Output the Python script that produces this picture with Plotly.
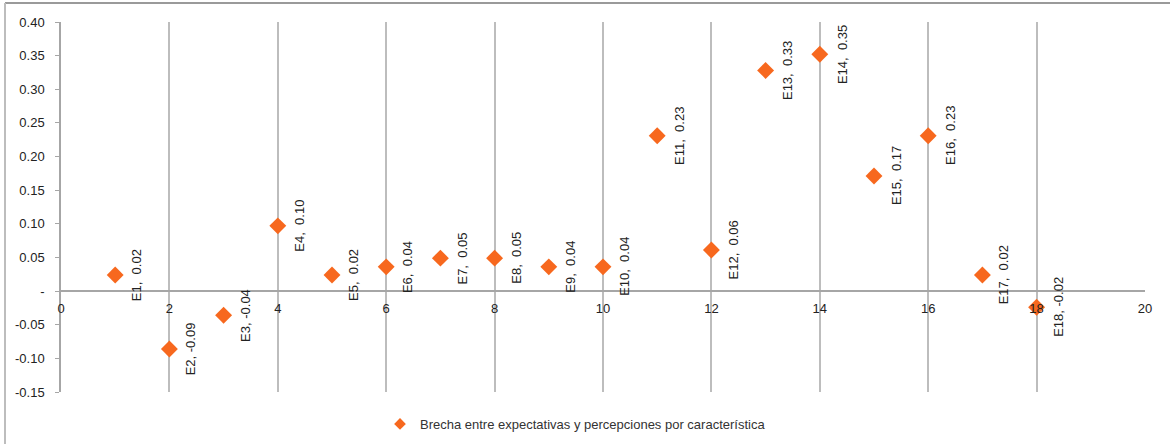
import plotly.graph_objects as go

labels = ["E1", "E2", "E3", "E4", "E5", "E6", "E7", "E8", "E9", "E10",
          "E11", "E12", "E13", "E14", "E15", "E16", "E17", "E18"]
x_vals = [1, 2, 3, 4, 5, 6, 7, 8, 9, 10, 11, 12, 13, 14, 15, 16, 17, 18]
y_vals = [0.024, -0.086, -0.036, 0.097, 0.024, 0.036, 0.049, 0.049, 0.036, 0.036,
          0.231, 0.061, 0.328, 0.352, 0.171, 0.231, 0.024, -0.024]
series_name = "Brecha entre expectativas y percepciones por característica"
y_tick_vals = [0.40, 0.35, 0.30, 0.25, 0.20, 0.15, 0.10, 0.05, 0.0, -0.05, -0.10, -0.15]
x_tick_vals = [0, 2, 4, 6, 8, 10, 12, 14, 16, 18, 20]

Y_MIN, Y_MAX = -0.15, 0.40
X_MIN, X_MAX = 0, 20
ORANGE = "#F7681E"
FONT = "Liberation Sans, Arial, sans-serif"


def fmt_y(v):
    if abs(v) < 1e-9:
        return "-"
    return f"{v:.2f}"


def fmt_label(name, v):
    if v < 0:
        return f"{name}, {v:.2f}"
    return f"{name},\u00a0 {v:.2f}"


fig = go.Figure()
fig.add_trace(go.Scatter(
    x=x_vals, y=y_vals, mode="markers", name=series_name,
    marker=dict(symbol="diamond", size=13, color=ORANGE, line=dict(width=0)),
    showlegend=False,
))
# legend-only entry with the small legend symbol
fig.add_trace(go.Scatter(
    x=[None], y=[None], mode="markers", name=series_name,
    marker=dict(symbol="diamond", size=9, color=ORANGE, line=dict(width=0)),
    showlegend=True,
))

for n, xv, yv in zip(labels, x_vals, y_vals):
    fig.add_annotation(x=xv, y=yv, text=fmt_label(n, yv), showarrow=False,
                       textangle=-90, xshift=22,
                       font=dict(family=FONT, size=13, color="#222"))

L, R, T, B = 61, 25, 22, 52
W, H = 1170, 444
pw = W - L - R
ph = H - T - B

fig.update_layout(
    width=W, height=H,
    margin=dict(l=L, r=R, t=T, b=B, autoexpand=False),
    paper_bgcolor="white", plot_bgcolor="white",
    font=dict(family=FONT, size=13, color="#222"),
    xaxis=dict(range=[X_MIN, X_MAX], tickvals=x_tick_vals,
               ticktext=[str(v) for v in x_tick_vals],
               showgrid=True, gridcolor="#BDBDBD", gridwidth=2,
               zeroline=False, showline=True, linecolor="#A6A6A6", linewidth=1.5,
               anchor="free", position=(0 - Y_MIN) / (Y_MAX - Y_MIN),
               ticks="", layer="above traces", ticklabelstandoff=6,
               tickfont=dict(family=FONT, size=13, color="#222")),
    yaxis=dict(range=[Y_MIN, Y_MAX], tickvals=y_tick_vals,
               ticktext=[fmt_y(v) for v in y_tick_vals],
               showgrid=False, zeroline=False, showline=True,
               linecolor="#A6A6A6", linewidth=1.5,
               ticks="outside", ticklen=4, tickcolor="#A6A6A6",
               ticklabelstandoff=8,
               tickfont=dict(family=FONT, size=13, color="#222")),
    legend=dict(orientation="h", xref="paper", yref="paper",
                x=(380 - L) / pw, xanchor="left",
                y=(H - B - 424) / ph, yanchor="middle",
                font=dict(family=FONT, size=13, color="#333"),
                bgcolor="rgba(0,0,0,0)", itemwidth=30),
    showlegend=True,
)

# outer chart frame (top and left edges visible)
fig.add_shape(type="line", xref="paper", yref="paper",
              x0=(5 - L) / pw, x1=(W + 10 - L) / pw,
              y0=1 + (T - 3) / ph, y1=1 + (T - 3) / ph,
              line=dict(color="#9A9A9A", width=2))
fig.add_shape(type="line", xref="paper", yref="paper",
              x0=(5 - L) / pw, x1=(5 - L) / pw,
              y0=1 + (T - 3) / ph, y1=-(B + 10) / ph,
              line=dict(color="#BDBDBD", width=2))

fig.write_html("out.html")
